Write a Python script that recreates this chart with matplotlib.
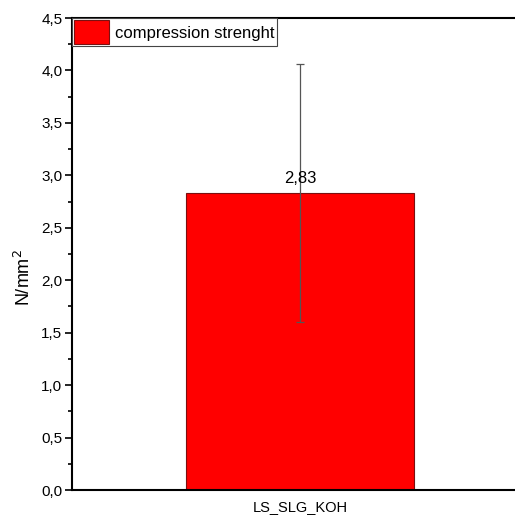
import matplotlib
matplotlib.use("Agg")
import matplotlib.pyplot as plt
from matplotlib.ticker import MultipleLocator, FuncFormatter

# sample data
categories = ["LS_SLG_KOH"]
strength = [2.83]
strength_err = [1.23]
label_text = ["2,83"]

plt.rcParams['font.family'] = ['Liberation Sans', 'DejaVu Sans']

fig = plt.figure(figsize=(5.15, 5.19), dpi=100)
ax = fig.add_axes([72/515, 1 - 490/519, 456/515, 472/519])

x = [1]
bars = ax.bar(x, strength, width=0.5, color='#ff0000', edgecolor='#7a1010',
              linewidth=0.8, label='compression strenght', zorder=2)
ax.errorbar(x, strength, yerr=strength_err, fmt='none', ecolor='#555555',
            elinewidth=0.9, capsize=3.2, capthick=0.9, zorder=3)
for b, t in zip(bars, label_text):
    ax.text(b.get_x() + b.get_width() / 2, b.get_height() + 0.07, t,
            ha='center', va='bottom', fontsize=12)

ax.set_xlim(0.5, 1.5)
ax.set_ylim(0, 4.5)
ax.set_xticks(x)
ax.set_xticklabels(categories, fontsize=10.5)
ax.tick_params(axis='x', length=0, pad=7)

ax.yaxis.set_major_locator(MultipleLocator(0.5))
ax.yaxis.set_minor_locator(MultipleLocator(0.25))
ax.yaxis.set_major_formatter(FuncFormatter(lambda v, p: f"{v:.1f}".replace('.', ',')))
ax.tick_params(axis='y', which='major', direction='out', length=5, width=1.2, labelsize=11, pad=2)
ax.tick_params(axis='y', which='minor', direction='out', length=3, width=1.2)

for side in ['left', 'bottom', 'top']:
    ax.spines[side].set_linewidth(1.5)
ax.spines['right'].set_visible(False)

ax.set_ylabel('N/mm$^2$', fontsize=13)
ax.yaxis.set_label_coords(-0.083, 0.45)

leg = ax.legend(loc='upper left', borderaxespad=0, fontsize=12, handlelength=2.1,
                handleheight=1.8, handletextpad=0.35, borderpad=0.14,
                fancybox=False, framealpha=1, edgecolor='#444444')
leg.get_frame().set_linewidth(0.8)
leg.set_zorder(5)

fig.savefig('out.png', dpi=100)
